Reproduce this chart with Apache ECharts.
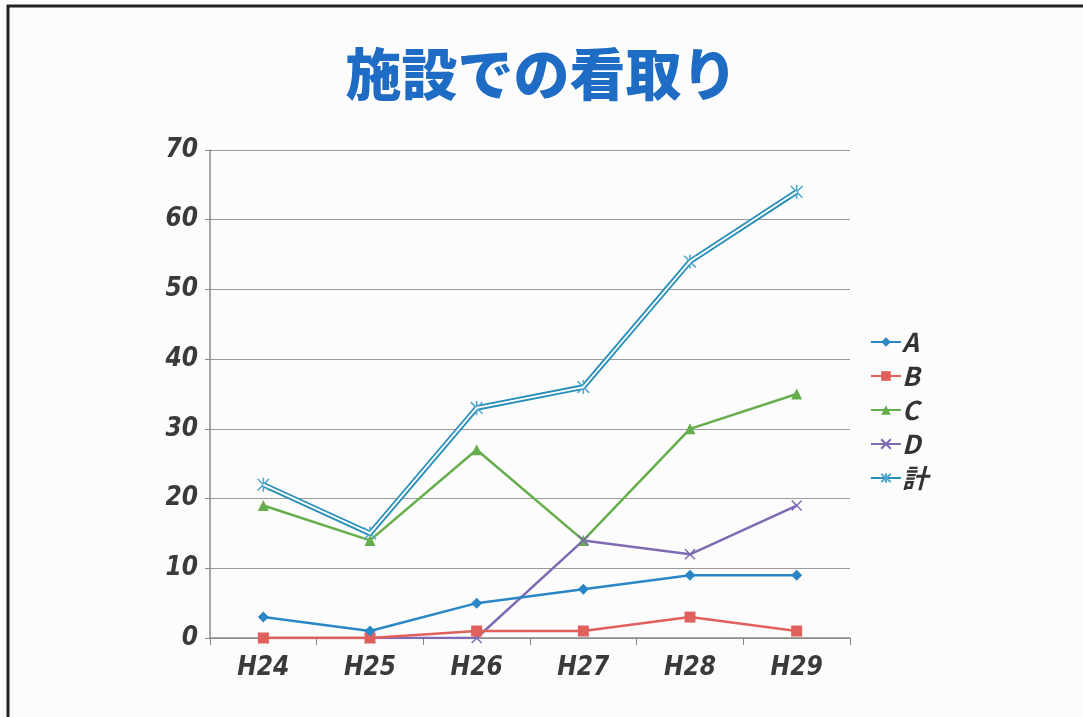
<!DOCTYPE html>
<html>
<head>
<meta charset="utf-8">
<script src="https://cdn.jsdelivr.net/npm/echarts@6/dist/echarts.min.js"></script>
<style>
  html, body { margin: 0; padding: 0; background: #fcfcfc; }
  #chart { width: 1083px; height: 717px; }
</style>
</head>
<body>
<div id="chart"></div>
<script>
// データ
var years = ['H24', 'H25', 'H26', 'H27', 'H28', 'H29'];
var dataA = [3, 1, 5, 7, 9, 9];
var dataB = [0, 0, 1, 1, 3, 1];
var dataC = [19, 14, 27, 14, 30, 35];
var dataD = [0, 0, 0, 14, 12, 19];
var dataTotal = [22, 15, 33, 36, 54, 64];

var xPath = 'path://M0,0L10,10M10,0L0,10';
var starPath = 'path://M0,0L10,10M10,0L0,10M5,-1L5,11';

var chart = echarts.init(document.getElementById('chart'));
var labelFont = { fontFamily: '"Liberation Sans Narrow", "DejaVu Sans Condensed", sans-serif', fontWeight: 'bold', fontStyle: 'italic', color: '#3a3a3a', fontSize: 26 };

var option = {
  backgroundColor: '#fcfcfc',
  animation: false,
  title: {
    text: '施設での看取り',
    left: 'center',
    top: 41,
    textStyle: {
      fontFamily: 'Noto Sans CJK JP',
      fontWeight: 900,
      fontSize: 56,
      color: '#1f6cc4',
      textBorderColor: '#ffffff',
      textBorderWidth: 3
    }
  },
  graphic: [{
    type: 'rect',
    shape: { x: 8, y: 6, width: 1100, height: 730 },
    style: { fill: 'none', stroke: '#222', lineWidth: 3 },
    silent: true
  }],
  legend: {
    orient: 'vertical',
    left: 865,
    top: 324,
    itemGap: 8,
    itemWidth: 30,
    itemHeight: 12,
    data: ['A', 'B', 'C', 'D', '計'],
    textStyle: { fontFamily: '"Liberation Sans Narrow", "Noto Sans CJK JP", sans-serif', fontWeight: 'bold', fontStyle: 'italic', color: '#333', fontSize: 26, padding: [0, 0, 0, -4] }
  },
  grid: { left: 210, right: 233, top: 150, bottom: 79 },
  xAxis: {
    type: 'category',
    data: years,
    boundaryGap: true,
    axisLine: { lineStyle: { color: '#888', width: 1.5 } },
    axisTick: { show: true, length: 7, lineStyle: { color: '#888' } },
    axisLabel: Object.assign({ margin: 17 }, labelFont)
  },
  yAxis: {
    type: 'value',
    min: 0,
    max: 70,
    interval: 10,
    axisLine: { show: true, lineStyle: { color: '#888', width: 1.5 } },
    axisTick: { show: true, length: 5, lineStyle: { color: '#888' } },
    axisLabel: Object.assign({ margin: 12 }, labelFont),
    splitLine: { lineStyle: { color: '#9a9a9a', width: 1 } }
  },
  series: [
    {
      name: '計', type: 'line', data: dataTotal, z: 3,
      symbol: starPath, symbolSize: 14, symbolKeepAspect: true,
      lineStyle: { color: '#2a8fb8', width: 5.5 },
      itemStyle: { color: '#4fa7cc', borderColor: '#4fa7cc', borderWidth: 1.5 }
    },
    {
      name: '計_inner', type: 'line', data: dataTotal, z: 4,
      symbol: 'none', lineStyle: { color: '#ffffff', width: 1.8 },
      tooltip: { show: false }
    },
    {
      name: 'C', type: 'line', data: dataC,
      symbol: 'triangle', symbolSize: 11,
      lineStyle: { color: '#66ad4c', width: 2.5 },
      itemStyle: { color: '#66ad4c' }
    },
    {
      name: 'D', type: 'line', data: dataD,
      symbol: xPath, symbolSize: 10,
      lineStyle: { color: '#7e6bb2', width: 2.5 },
      itemStyle: { color: '#7e6bb2', borderColor: '#7e6bb2', borderWidth: 1.5 }
    },
    {
      name: 'B', type: 'line', data: dataB,
      symbol: 'rect', symbolSize: 11,
      lineStyle: { color: '#e0605c', width: 2.5 },
      itemStyle: { color: '#e0605c' }
    },
    {
      name: 'A', type: 'line', data: dataA,
      symbol: 'diamond', symbolSize: 11,
      lineStyle: { color: '#2a86c4', width: 2.5 },
      itemStyle: { color: '#2a86c4' }
    }
  ]
};
chart.setOption(option);
</script>
</body>
</html>
